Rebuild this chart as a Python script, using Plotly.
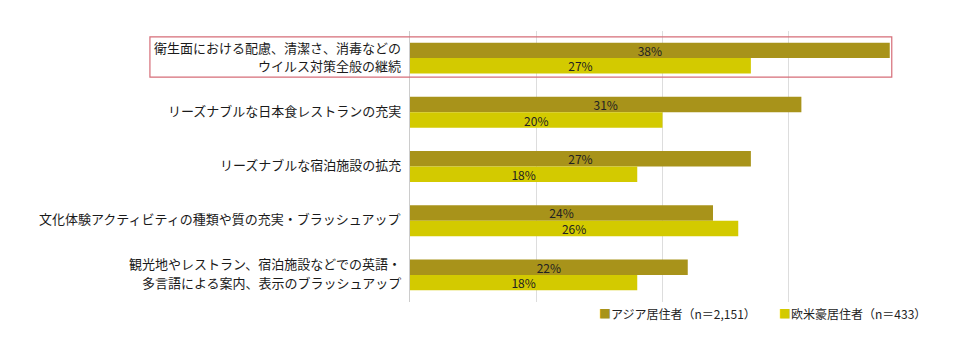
import plotly.graph_objects as go

categories = [
    "衛生面における配慮、清潔さ、消毒などの<br>ウイルス対策全般の継続",
    "リーズナブルな日本食レストランの充実",
    "リーズナブルな宿泊施設の拡充",
    "文化体験アクティビティの種類や質の充実・ブラッシュアップ",
    "観光地やレストラン、宿泊施設などでの英語・<br>多言語による案内、表示のブラッシュアップ",
]
asia_values = [38, 31, 27, 24, 22]
west_values = [27, 20, 18, 26, 18]
series_names = ["アジア居住者（n＝2,151）", "欧米豪居住者（n＝433）"]
colors = ["#A8931A", "#D3CA00"]

FONT = "Noto Sans CJK JP"

fig = go.Figure()
for name, vals, col in zip(series_names, [asia_values, west_values], colors):
    fig.add_trace(go.Bar(
        y=categories, x=vals, orientation="h", name=name,
        marker=dict(color=col, line=dict(width=0)),
        text=[f"{v}%" for v in vals], textposition="inside",
        insidetextanchor="middle",
        textfont=dict(family=FONT, size=12, color="#222222"),
        cliponaxis=False, showlegend=False,
    ))

fig.update_layout(
    width=960, height=350,
    margin=dict(l=410, r=45, t=31, b=48),
    paper_bgcolor="white", plot_bgcolor="white",
    barmode="group", bargap=0.43, bargroupgap=0,
    font=dict(family=FONT, size=13, color="#222222"),
    uniformtext=dict(mode="show", minsize=8),
    xaxis=dict(range=[0, 40], dtick=10, showticklabels=False,
               showgrid=True, gridcolor="#dddddd", gridwidth=1,
               zeroline=False, showline=False, fixedrange=True),
    yaxis=dict(autorange="reversed", showgrid=False, zeroline=False,
               showline=True, linecolor="#cccccc", linewidth=1,
               ticks="", showticklabels=False),
    showlegend=False,
)

# category labels, one text per line (right-aligned against the axis)
for cat in categories:
    lines = cat.split("<br>")
    n = len(lines)
    for i, line in enumerate(lines):
        if n == 1:
            shift = 2
        else:
            shift = 11 - i * 18.5
        fig.add_annotation(
            xref="paper", yref="y", x=0, y=cat, xshift=-7, yshift=shift,
            xanchor="right", yanchor="middle", showarrow=False,
            text=line, font=dict(family=FONT, size=13, color="#1a1a1a"),
        )

# legend drawn as text items
legend_x = [0.370, 0.727]
for name, col, lx in zip(series_names, colors, legend_x):
    fig.add_annotation(
        xref="paper", yref="paper", x=lx, y=-0.041,
        xanchor="left", yanchor="middle", showarrow=False,
        text=f'<span style="color:{col}">■</span>{name}',
        font=dict(family=FONT, size=12, color="#222222"),
    )

fig.add_shape(type="rect", xref="paper", yref="paper",
              x0=-0.515, x1=0.954, y0=0.830, y1=0.978,
              line=dict(color="#d66d78", width=1.2), fillcolor="rgba(0,0,0,0)",
              layer="above")

fig.write_html("out.html")
